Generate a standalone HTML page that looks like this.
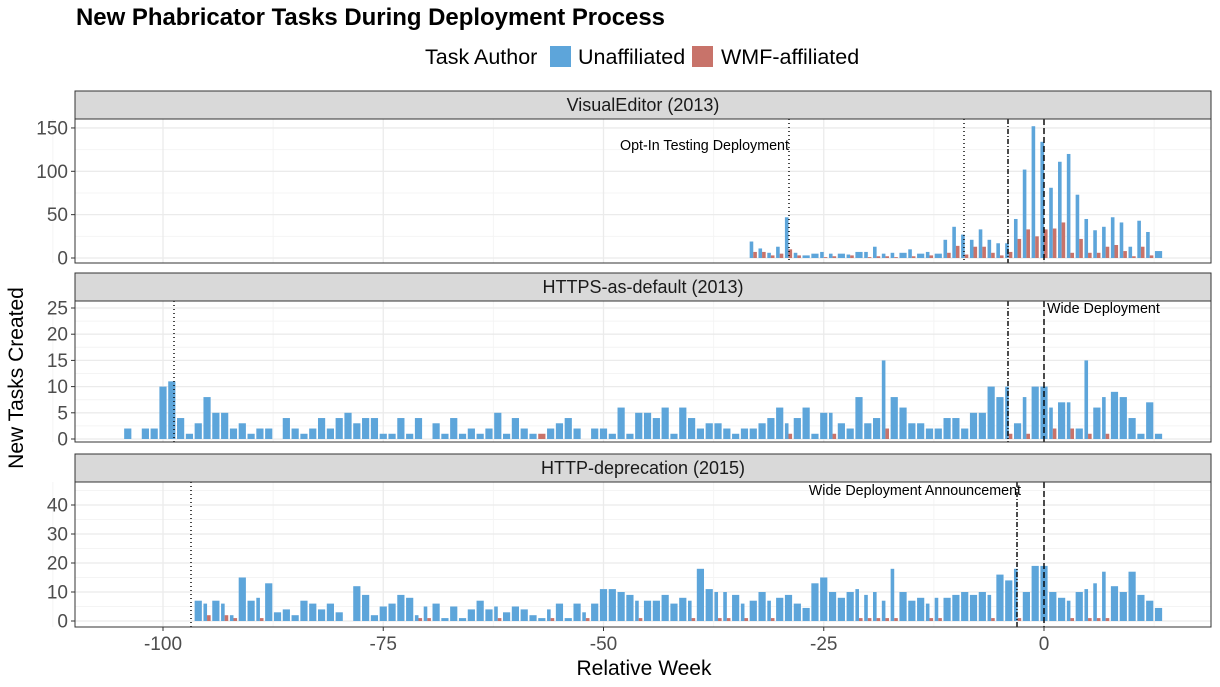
<!DOCTYPE html>
<html><head><meta charset="utf-8"><style>
body{margin:0;background:#fff;}
svg{display:block;font-family:"Liberation Sans",sans-serif;}
</style></head><body>
<svg id="s" width="1220" height="687" xmlns="http://www.w3.org/2000/svg"></svg>
<script>
const B='#5DA5DA',R='#C8736A';
const X0=1044,PX=8.81;
const xw=w=>X0+w*PX;
let o='';
o+='<rect width="1220" height="687" fill="#fff"/>';
o+='<text x="76" y="25" font-size="23.8" font-weight="bold" fill="#000" textLength="589" lengthAdjust="spacingAndGlyphs">New Phabricator Tasks During Deployment Process</text>';
o+='<text x="425" y="64" font-size="21.5" fill="#000">Task Author</text>';
o+='<rect x="550" y="46" width="21" height="21" fill="'+B+'"/><text x="578" y="64" font-size="21.5">Unaffiliated</text>';
o+='<rect x="692" y="46" width="21" height="21" fill="'+R+'"/><text x="721" y="64" font-size="21.5">WMF-affiliated</text>';
function seq(start,arr){return arr.map((v,i)=>[start+i,v]);}
const panels=[
{strip:[91,119],top:119,bot:263,y0:258,k:0.867,ticks:[0,50,100,150],minor:[25,75,125],title:'VisualEditor (2013)',
 U:seq(-33,[19,11,6,13,47,6,3,5,7,5,5,4,7,7,13,5,6,6,10,5,7,5,21,36,27,21,33,21,17,17,45,102,152,134,81,111,120,73,45,32,36,47,41,13,43,30,8]),
 W:seq(-33,[7,7,3,5,10,3,0,0,1,2,0,3,0,1,2,2,1,0,2,0,3,0,6,14,4,13,13,6,3,7,22,33,25,33,34,41,6,22,6,6,13,15,8,2,13,3,0]),
 lines:[[789,'1,3'],[964,'1,3'],[1008,'5,2,1,2'],[1044,'6,3']],label:['Opt-In Testing Deployment',789,150,'end']},
{strip:[273,301],top:301,bot:442,y0:439,k:5.24,ticks:[0,5,10,15,20,25],minor:[2.5,7.5,12.5,17.5,22.5],title:'HTTPS-as-default (2013)',
 U:seq(-104,[2,0,2,2,10,11,4,1,3,8,5,5,2,3,1,2,2,0,4,2,1,2,4,2,4,5,3,4,4,1,1,4,1,4,0,3,1,4,1,2,1,2,5,1,4,2,1,0,2,3,4,2,0,2,2,1,6,1,
 5,5,4,6,1,6,4,2,3,3,2,1,2,2,3,4,6,3,4,6,1,5,5,3,2,8,3,4,15,8,6,3,3,2,2,4,4,2,5,5,10,8,10,3,8,10,10,6,7,7,2,15,6,8,9,8,4,1,7,1]),
 W:{'-57':1,'-29':1,'-24':1,'-18':2,'-4':1,'-2':1,'1':2,'3':2,'5':1,'7':1},
 lines:[[174,'1,3'],[1008,'5,2,1,2'],[1044,'6,3']],label:['Wide Deployment',1047,313,'start']},
{strip:[454,482],top:482,bot:627,y0:621,k:2.9,ticks:[0,10,20,30,40],minor:[5,15,25,35,45],title:'HTTP-deprecation (2015)',
 U:seq(-96,[7,6,7,6,2,15,7,8,13,3,4,2,7,6,4,6,3,0,12,9,2,5,6,9,8,2,5,6,1,5,1,4,7,4,5,3,5,4,2,1,4,6,1,6,3,6,11,11,
 10,9,7,7,7,9,6,8,7,18,11,10,10,9,6,7,10,7,8,9,6,4.5,13,15,10,8,10,11,9,10,7,18,10,7,8,6,8,8,9,10,9,10,9,16,14,18,10,19,19,10,8,7,10,11,13,17,12,10,17,9,7,4.5]),
 W:{'-95':2,'-93':2,'-92':1,'-89':1,'-71':1,'-70':1,'-62':1,'-56':1,'-52':1,'-46':1,'-40':1,'-37':1,'-36':1,'-34':1,'-31':1,'-21':1,'-20':1,'-19':1,'-18':1,'-17':1,'-13':1,'-12':1,'-6':1,'-3':1,'3':1,'5':1,'6':1,'7':1},
 lines:[[191,'1,3'],[1017,'5,2,1,2'],[1044,'6,3']],label:['Wide Deployment Announcement',1021,495,'end']}
];
const L=75,Rr=1211;
panels.forEach(p=>{
 let W={};
 if(Array.isArray(p.W)) p.W.forEach(([w,v])=>{if(v)W[w]=v;}); else for(const k in p.W) W[+k]=p.W[k];
 o+=`<rect x="${L}" y="${p.strip[0]}" width="${Rr-L}" height="${p.strip[1]-p.strip[0]}" fill="#d9d9d9" stroke="#333" stroke-width="1"/>`;
 o+=`<text x="${(L+Rr)/2}" y="${p.strip[0]+20}" font-size="18" text-anchor="middle" fill="#1a1a1a">${p.title}</text>`;
 o+=`<rect x="${L}" y="${p.top}" width="${Rr-L}" height="${p.bot-p.top}" fill="#fff"/>`;
 [-112.5,-87.5,-62.5,-37.5,-12.5,12.5].forEach(w=>o+=`<line x1="${xw(w)}" x2="${xw(w)}" y1="${p.top}" y2="${p.bot}" stroke="#f4f4f4" stroke-width="1"/>`);
 p.minor.forEach(t=>{const y=p.y0-t*p.k;if(y>p.top)o+=`<line x1="${L}" x2="${Rr}" y1="${y}" y2="${y}" stroke="#f4f4f4" stroke-width="1"/>`;});
 [-100,-75,-50,-25,0].forEach(w=>o+=`<line x1="${xw(w)}" x2="${xw(w)}" y1="${p.top}" y2="${p.bot}" stroke="#ebebeb" stroke-width="1.3"/>`);
 p.ticks.forEach(t=>{const y=p.y0-t*p.k;o+=`<line x1="${L}" x2="${Rr}" y1="${y}" y2="${y}" stroke="#ebebeb" stroke-width="1.3"/>`;
  o+=`<line x1="${L-4}" x2="${L}" y1="${y}" y2="${y}" stroke="#333"/>`;
  o+=`<text x="${L-7}" y="${y+6.5}" font-size="19" text-anchor="end" fill="#4d4d4d">${t}</text>`;});
 p.U.forEach(([w,v])=>{const c=xw(w);const h=v*p.k;const wm=W[w];
  if(v>0){ if(wm) o+=`<rect x="${c-3.6}" y="${p.y0-h}" width="3.6" height="${h}" fill="${B}"/>`;
   else o+=`<rect x="${c-3.6}" y="${p.y0-h}" width="7.2" height="${h}" fill="${B}"/>`;}
  if(wm){const hh=wm*p.k; o+=`<rect x="${v>0?c:c-3.6}" y="${p.y0-hh}" width="${v>0?3.6:7.2}" height="${hh}" fill="${R}"/>`;}
 });
 p.lines.forEach(([x,d])=>o+=`<line x1="${x}" x2="${x}" y1="${p.top}" y2="${p.bot}" stroke="#000" stroke-width="1.4" stroke-dasharray="${d}"/>`);
 o+=`<text x="${p.label[1]}" y="${p.label[2]}" font-size="14.3" text-anchor="${p.label[3]}" fill="#000">${p.label[0]}</text>`;
 o+=`<rect x="${L}" y="${p.top}" width="${Rr-L}" height="${p.bot-p.top}" fill="none" stroke="#333" stroke-width="1"/>`;
});
[-100,-75,-50,-25,0].forEach(w=>{const x=xw(w);o+=`<line x1="${x}" x2="${x}" y1="627" y2="631" stroke="#333"/>`;
 o+=`<text x="${x}" y="650" font-size="19" text-anchor="middle" fill="#4d4d4d">${w}</text>`;});
o+='<text x="644" y="675" font-size="21" text-anchor="middle" fill="#000">Relative Week</text>';
o+='<text transform="translate(23,378) rotate(-90)" font-size="21" text-anchor="middle" fill="#000">New Tasks Created</text>';
document.getElementById('s').innerHTML=o;
</script>
</body></html>
